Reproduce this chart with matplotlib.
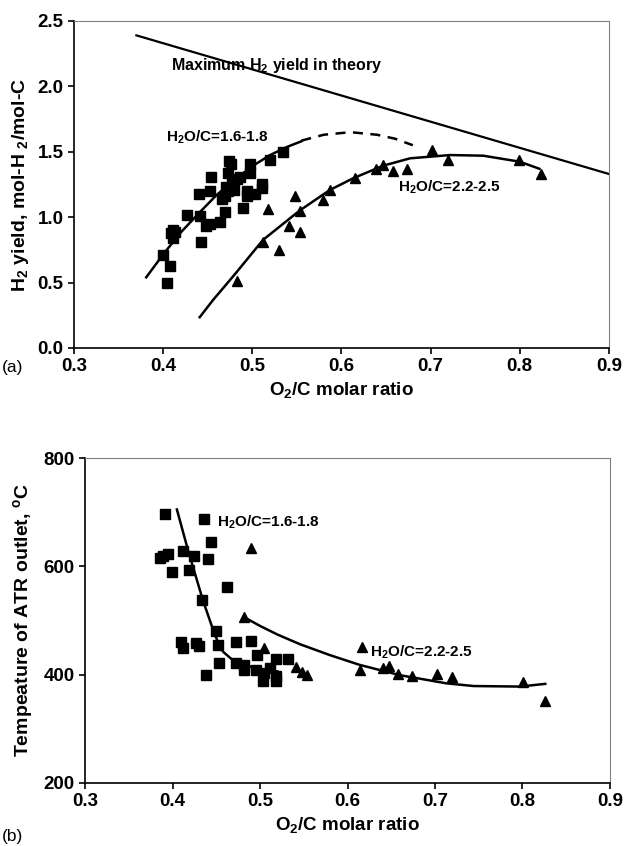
import matplotlib.pyplot as plt

plt.rcParams['font.family'] = ['Liberation Sans', 'DejaVu Sans']
plt.rcParams['mathtext.fontset'] = 'custom'
plt.rcParams['mathtext.rm'] = 'Liberation Sans:bold'
plt.rcParams['mathtext.bf'] = 'Liberation Sans:bold'

# ---- panel (a): H2 yield ----
theory_x = [0.37, 0.90]
theory_y = [2.39, 1.33]

sq_a_x = [0.400, 0.404, 0.408, 0.409, 0.411, 0.411, 0.413, 0.427, 0.441, 0.443,
          0.448, 0.452, 0.464, 0.469, 0.490, 0.440, 0.452, 0.454, 0.469, 0.471,
          0.473, 0.474, 0.473, 0.476, 0.479, 0.486, 0.494, 0.494, 0.497, 0.497,
          0.503, 0.511, 0.511, 0.520, 0.534, 0.477, 0.483, 0.466]
sq_a_y = [0.71, 0.50, 0.63, 0.88, 0.90, 0.84, 0.89, 1.02, 1.01, 0.81,
          0.93, 0.95, 0.96, 1.04, 1.07, 1.18, 1.20, 1.31, 1.16, 1.23,
          1.20, 1.43, 1.34, 1.41, 1.21, 1.31, 1.20, 1.16, 1.41, 1.34,
          1.18, 1.25, 1.22, 1.44, 1.50, 1.27, 1.29, 1.14]

tri_a_x = [0.483, 0.512, 0.518, 0.530, 0.541, 0.548, 0.553, 0.554, 0.579, 0.587,
           0.615, 0.639, 0.647, 0.658, 0.674, 0.701, 0.720, 0.799, 0.824]
tri_a_y = [0.51, 0.81, 1.06, 0.75, 0.93, 1.16, 1.05, 0.89, 1.13, 1.21,
           1.30, 1.37, 1.40, 1.35, 1.37, 1.51, 1.44, 1.44, 1.33]

fit_sq_a_x = [0.381, 0.40, 0.42, 0.44, 0.46, 0.48, 0.50, 0.52, 0.54, 0.555]
fit_sq_a_y = [0.54, 0.715, 0.885, 1.03, 1.17, 1.285, 1.39, 1.475, 1.54, 1.58]
dash_sq_a_x = [0.555, 0.58, 0.61, 0.64, 0.66, 0.68]
dash_sq_a_y = [1.585, 1.63, 1.65, 1.63, 1.60, 1.55]

fit_tri_a_x = [0.441, 0.456, 0.48, 0.512, 0.553, 0.587, 0.613, 0.647, 0.677,
               0.722, 0.759, 0.80, 0.822]
fit_tri_a_y = [0.235, 0.367, 0.56, 0.826, 1.05, 1.208, 1.297, 1.394, 1.45,
               1.475, 1.47, 1.424, 1.37]

# ---- panel (b): outlet temperature ----
sq_b_x = [0.391, 0.436, 0.444, 0.386, 0.389, 0.395, 0.412, 0.424, 0.440, 0.399,
          0.419, 0.462, 0.434, 0.450, 0.410, 0.412, 0.427, 0.430, 0.452, 0.453,
          0.472, 0.473, 0.482, 0.490, 0.482, 0.495, 0.497, 0.504, 0.503, 0.518,
          0.518, 0.518, 0.511, 0.532, 0.438]
sq_b_y = [697, 688, 645, 616, 620, 622, 629, 620, 614, 590,
          593, 561, 538, 480, 461, 449, 458, 453, 455, 421,
          461, 421, 418, 462, 409, 409, 437, 403, 388, 428,
          397, 388, 412, 428, 400]

tri_b_x = [0.490, 0.482, 0.505, 0.541, 0.548, 0.554, 0.616, 0.614, 0.640, 0.647,
           0.658, 0.674, 0.702, 0.720, 0.801, 0.826]
tri_b_y = [633, 507, 449, 415, 404, 400, 451, 409, 413, 416,
           401, 398, 401, 395, 387, 352]

fit_sq_b_x = [0.405, 0.418, 0.435, 0.447, 0.452, 0.458, 0.468, 0.482, 0.50, 0.52]
fit_sq_b_y = [705, 628, 536, 480, 460, 442, 428, 418, 410, 406]

fit_tri_b_x = [0.482, 0.50, 0.52, 0.546, 0.58, 0.614, 0.66, 0.713, 0.744,
               0.797, 0.826]
fit_tri_b_y = [506, 490, 474, 456, 436, 418, 399, 384, 379, 378, 383]

x_ticks = [0.3, 0.4, 0.5, 0.6, 0.7, 0.8, 0.9]


def style_axes(ax):
    ax.spines['top'].set_color('#808080')
    ax.spines['right'].set_color('#808080')
    ax.spines['left'].set_linewidth(1.2)
    ax.spines['bottom'].set_linewidth(1.2)
    ax.tick_params(direction='out', length=4, width=1.2, labelsize=13.5)
    for lab in ax.get_xticklabels() + ax.get_yticklabels():
        lab.set_fontweight('bold')


fig = plt.figure(figsize=(6.28, 8.46), dpi=100)

ax1 = fig.add_axes([0.1178, 0.5887, 0.8519, 0.3865])
ax1.plot(theory_x, theory_y, color='black', lw=1.6)
ax1.plot(fit_sq_a_x, fit_sq_a_y, color='black', lw=1.8)
ax1.plot(dash_sq_a_x, dash_sq_a_y, color='black', lw=1.8, ls=(0, (4, 3)))
ax1.plot(fit_tri_a_x, fit_tri_a_y, color='black', lw=1.8)
ax1.plot(sq_a_x, sq_a_y, 's', color='black', ms=6.5)
ax1.plot(tri_a_x, tri_a_y, '^', color='black', ms=6.5)
ax1.set_xlim(0.3, 0.9)
ax1.set_ylim(0.0, 2.5)
ax1.set_xticks(x_ticks)
ax1.set_xticklabels([f"{v:.1f}" for v in x_ticks])
ax1.set_yticks([0.0, 0.5, 1.0, 1.5, 2.0, 2.5])
ax1.set_yticklabels(["0.0", "0.5", "1.0", "1.5", "2.0", "2.5"])
style_axes(ax1)
ax1.text(0.409, 2.16, r"Maximum H$_2$ yield in theory", fontsize=11.5,
         fontweight='bold', va='center')
ax1.text(0.403, 1.61, r"H$_2$O/C=1.6-1.8", fontsize=11, fontweight='bold',
         va='center')
ax1.text(0.663, 1.23, r"H$_2$O/C=2.2-2.5", fontsize=11, fontweight='bold',
         va='center')
ax1.set_xlabel(r"O$_2$/C molar ratio", fontsize=13.5, fontweight='bold',
               labelpad=4)
ax1.set_ylabel(r"H$_2$ yield, mol-H $_2$/mol-C", fontsize=14,
               fontweight='bold', labelpad=5)

ax2 = fig.add_axes([0.1354, 0.0745, 0.8359, 0.3841])
ax2.plot(fit_sq_b_x, fit_sq_b_y, color='black', lw=1.8)
ax2.plot(fit_tri_b_x, fit_tri_b_y, color='black', lw=1.8)
ax2.plot(sq_b_x, sq_b_y, 's', color='black', ms=6.5)
ax2.plot(tri_b_x, tri_b_y, '^', color='black', ms=6.5)
ax2.set_xlim(0.3, 0.9)
ax2.set_ylim(200, 800)
ax2.set_xticks(x_ticks)
ax2.set_xticklabels([f"{v:.1f}" for v in x_ticks])
ax2.set_yticks([200, 400, 600, 800])
style_axes(ax2)
ax2.text(0.451, 681, r"H$_2$O/C=1.6-1.8", fontsize=11, fontweight='bold',
         va='center')
ax2.text(0.626, 442, r"H$_2$O/C=2.2-2.5", fontsize=11, fontweight='bold',
         va='center')
ax2.set_xlabel(r"O$_2$/C molar ratio", fontsize=13.5, fontweight='bold',
               labelpad=4)
ax2.set_ylabel(r"Tempeature of ATR outlet, $^{\mathrm{o}}$C", fontsize=14,
               fontweight='bold', labelpad=5)

fig.text(0.003, 0.560, "(a)", fontsize=12.5)
fig.text(0.003, 0.006, "(b)", fontsize=12.5)

fig.savefig("out.png", dpi=100)
